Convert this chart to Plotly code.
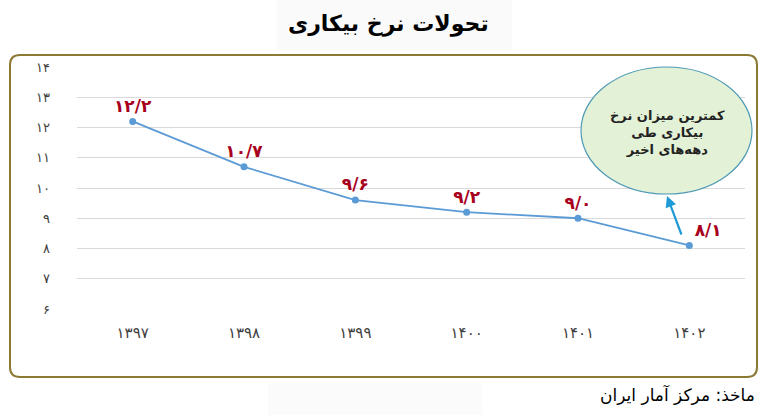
import plotly.graph_objects as go

# ---- data ----
years = ["۱۳۹۷", "۱۳۹۸", "۱۳۹۹", "۱۴۰۰", "۱۴۰۱", "۱۴۰۲"]
rates = [12.2, 10.7, 9.6, 9.2, 9.0, 8.1]
rate_labels = ["۱۲/۲", "۱۰/۷", "۹/۶", "۹/۲", "۹/۰", "۸/۱"]
y_ticks = [6, 7, 8, 9, 10, 11, 12, 13, 14]
y_tick_labels = ["۶", "۷", "۸", "۹", "۱۰", "۱۱", "۱۲", "۱۳", "۱۴"]
title_text = "تحولات نرخ بیکاری"
note_text = "کمترین میزان نرخ<br>بیکاری طی<br>دهه‌های اخیر"
source_text = "ماخذ: مرکز آمار ایران"

W, H = 779, 415
L, R, T, B = 77, 34, 67, 106
PW, PH = W - L - R, H - T - B

def px_x(px):
    return (px - L) / PW

def px_y(py):
    return (H - B - py) / PH

xs = list(range(len(years)))
positions = ["top center"] * (len(years) - 1) + ["top right"]

fig = go.Figure()
fig.add_trace(go.Scatter(
    x=xs, y=rates, mode="lines+markers+text",
    line=dict(color="#5B9BD5", width=1.8),
    marker=dict(color="#5B9BD5", size=7),
    text=rate_labels, textposition=positions,
    textfont=dict(family="DejaVu Sans", size=17, color="#A8001C", weight="bold"),
    cliponaxis=False, hoverinfo="skip", showlegend=False,
))

# rounded frame path in paper coords
x0, x1 = px_x(10), px_x(757)
y0, y1 = px_y(377), px_y(55)
rx, ry = 10 / PW, 10 / PH
path = (f"M {x0+rx},{y1} L {x1-rx},{y1} Q {x1},{y1} {x1},{y1-ry} "
        f"L {x1},{y0+ry} Q {x1},{y0} {x1-rx},{y0} L {x0+rx},{y0} "
        f"Q {x0},{y0} {x0},{y0+ry} L {x0},{y1-ry} Q {x0},{y1} {x0+rx},{y1} Z")

shapes = [
    dict(type="rect", xref="paper", yref="paper",
         x0=px_x(277), x1=px_x(512), y0=px_y(50), y1=px_y(0),
         fillcolor="#FAFAFA", line=dict(width=0), layer="below"),
    dict(type="rect", xref="paper", yref="paper",
         x0=px_x(268), x1=px_x(482), y0=px_y(415), y1=px_y(383),
         fillcolor="#FBFBFB", line=dict(width=0), layer="below"),
    dict(type="path", xref="paper", yref="paper", path=path,
         line=dict(color="#8A7A34", width=2), fillcolor="rgba(0,0,0,0)"),
    dict(type="circle", xref="paper", yref="paper",
         x0=px_x(581), x1=px_x(752), y0=px_y(194), y1=px_y(67),
         fillcolor="#E3F1D7", line=dict(color="#4E9AB5", width=1.2)),
]

annotations = [
    dict(text=f"<b>{title_text}</b>", xref="paper", yref="paper",
         x=px_x(388), y=px_y(24), xanchor="center", yanchor="middle",
         showarrow=False,
         font=dict(family="DejaVu Sans", size=22, color="#000000")),
    dict(text=note_text, xref="paper", yref="paper",
         x=px_x(667), y=px_y(132), xanchor="center", yanchor="middle",
         showarrow=False, align="center",
         font=dict(family="DejaVu Sans", size=13, color="#222222", weight="bold")),
    dict(text="", xref="paper", yref="paper",
         x=px_x(667), y=px_y(196), ax=15, ay=40,
         showarrow=True, arrowhead=2, arrowsize=1, arrowwidth=2.2,
         arrowcolor="#1E9BD7"),
    dict(text=source_text, xref="paper", yref="paper",
         x=px_x(757), y=px_y(394), xanchor="right", yanchor="middle",
         showarrow=False,
         font=dict(family="DejaVu Sans", size=17, color="#000000")),
]

fig.update_layout(
    width=W, height=H,
    margin=dict(l=L, r=R, t=T, b=B),
    paper_bgcolor="white", plot_bgcolor="white",
    shapes=shapes, annotations=annotations,
    xaxis=dict(range=[-0.5, len(years) - 0.5], tickvals=xs, ticktext=years,
               showgrid=False, zeroline=False, showline=False,
               ticks="", ticklabelstandoff=13,
               tickfont=dict(family="DejaVu Sans", size=15, color="#404040")),
    yaxis=dict(range=[6, 14], tickvals=y_ticks, ticktext=y_tick_labels,
               showgrid=True, gridcolor="#D9D9D9", gridwidth=1,
               zeroline=False, showline=False, ticks="",
               ticklabelstandoff=26,
               tickfont=dict(family="DejaVu Sans", size=13, color="#404040")),
)

fig.write_html("out.html", config={"displayModeBar": False},
               post_script="document.body.style.margin='0px';document.body.style.padding='0px';")
